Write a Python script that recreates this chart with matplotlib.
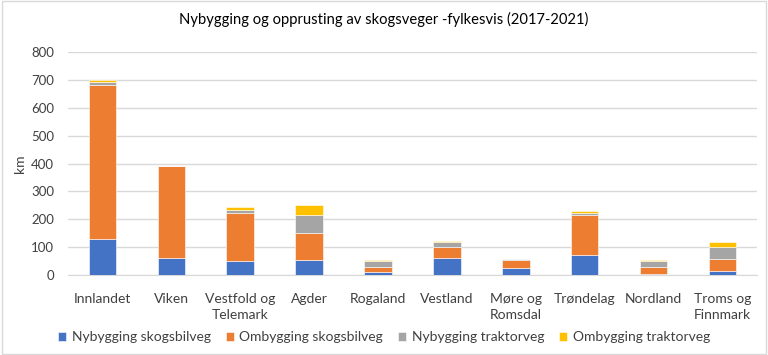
import matplotlib.pyplot as plt
import numpy as np

plt.rcParams['font.family'] = ['Lato', 'DejaVu Sans']

fylker = ['Innlandet', 'Viken', 'Vestfold og\nTelemark', 'Agder', 'Rogaland',
          'Vestland', 'Møre og\nRomsdal', 'Trøndelag', 'Nordland', 'Troms og\nFinnmark']
nybygging_skogsbilveg = [128, 60, 50, 53, 12, 62, 25, 72, 5, 15]
ombygging_skogsbilveg = [552, 330, 173, 98, 18, 38, 29, 143, 24, 42]
nybygging_traktorveg = [13, 2, 11, 65, 20, 18, 2, 7, 21, 43]
ombygging_traktorveg = [6, 0, 10, 35, 4, 3, 1, 7, 3, 20]

series = [
    ('Nybygging skogsbilveg', nybygging_skogsbilveg, '#4472C4'),
    ('Ombygging skogsbilveg', ombygging_skogsbilveg, '#ED7D31'),
    ('Nybygging traktorveg', nybygging_traktorveg, '#A5A5A5'),
    ('Ombygging traktorveg', ombygging_traktorveg, '#FFC000'),
]

fig = plt.figure(figsize=(7.68, 3.55), dpi=100)
ax = fig.add_axes([0.0885, 0.2254, 0.897, 0.628])

x = np.arange(len(fylker))
bottom = np.zeros(len(fylker))
for name, vals, col in series:
    ax.bar(x, vals, 0.4, bottom=bottom, color=col, label=name, zorder=3,
           edgecolor='white', linewidth=0.4)
    bottom += np.array(vals)

ax.set_xlim(-0.5, len(fylker) - 0.5)
ax.set_ylim(0, 800)
ax.set_yticks(range(0, 801, 100))
ax.grid(axis='y', color='#D9D9D9', linewidth=1, zorder=0)
for s in ax.spines.values():
    s.set_visible(False)
ax.spines['bottom'].set_visible(True)
ax.spines['bottom'].set_color('#D9D9D9')
ax.tick_params(length=0, labelsize=9.5, colors='#404040')
ax.tick_params(axis='x', pad=13)
ax.tick_params(axis='y', pad=10)
ax.set_xticks(x)
ax.set_xticklabels(fylker, fontsize=10, linespacing=1.35)
ax.set_ylabel('km', fontsize=10, color='#404040', labelpad=4)

fig.text(0.5, 0.945, 'Nybygging og opprusting av skogsveger -fylkesvis (2017-2021)',
         ha='center', va='center', fontsize=10.6, color='#000000')

fig.legend(loc='center', bbox_to_anchor=(0.5, 0.05), ncol=4, frameon=False,
           fontsize=10, handlelength=0.6, handleheight=0.6, columnspacing=1.05,
           handletextpad=0.4, labelcolor='#404040')

border = plt.Rectangle((0.002, 0.003), 0.995, 0.994, transform=fig.transFigure,
                       fill=False, edgecolor='#D9D9D9', linewidth=1)
fig.patches.append(border)

fig.savefig('out.png', dpi=100)
